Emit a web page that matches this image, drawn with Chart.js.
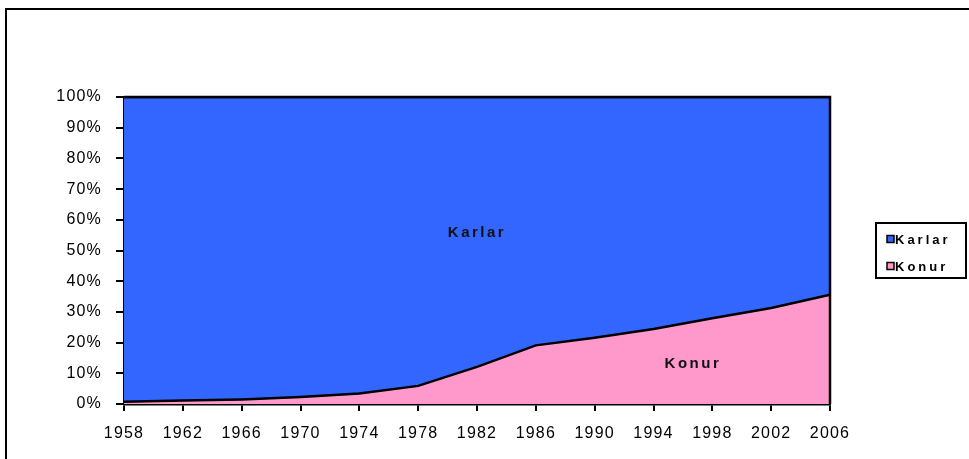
<!DOCTYPE html>
<html>
<head>
<meta charset="utf-8">
<script src="https://cdn.jsdelivr.net/npm/chart.js@4"></script>
<style>
  html, body { margin: 0; padding: 0; background: #fff; overflow: hidden; }
  #wrap { position: relative; width: 969px; height: 459px; }
  #frame { position: absolute; left: 5px; top: 8px; width: 1000px; height: 500px; border: 2px solid #000; box-sizing: border-box; }
  #myChart { position: absolute; left: 0; top: 0; }
</style>
</head>
<body>
<div id="wrap">
  <div id="frame"></div>
  <canvas id="myChart" width="969" height="459"></canvas>
</div>
<script>
// categories and series (percent of total)
const years = ['1958', '1962', '1966', '1970', '1974', '1978', '1982', '1986', '1990', '1994', '1998', '2002', '2006'];
const konur = [0.7, 1.1, 1.5, 2.3, 3.4, 5.9, 12.1, 19.1, 21.6, 24.4, 27.9, 31.3, 35.6];
const karlar = konur.map(v => +(100 - v).toFixed(1));
const yTicks = [0, 10, 20, 30, 40, 50, 60, 70, 80, 90, 100];

const FONT = "'Liberation Sans', Arial, sans-serif";

// letter spacing, canvas state gets reset on resize so set it every pass
const spacing = {
  id: 'spacing',
  beforeLayout(chart) { chart.ctx.letterSpacing = '1.2px'; },
  beforeDraw(chart) { chart.ctx.letterSpacing = '1.2px'; }
};

// black line on top and right edge of the plot area
const plotFrame = {
  id: 'plotFrame',
  afterDatasetsDraw(chart) {
    const {ctx, chartArea} = chart;
    ctx.save();
    ctx.strokeStyle = '#000';
    ctx.lineWidth = 2.5;
    ctx.beginPath();
    ctx.moveTo(chartArea.left, chartArea.top);
    ctx.lineTo(chartArea.right, chartArea.top);
    ctx.lineTo(chartArea.right, chartArea.bottom);
    ctx.stroke();
    ctx.restore();
  }
};

// series names written inside the areas
const areaLabels = {
  id: 'areaLabels',
  afterDatasetsDraw(chart) {
    const {ctx, scales} = chart;
    ctx.save();
    ctx.letterSpacing = '2.5px';
    ctx.font = 'bold 15px ' + FONT;
    ctx.fillStyle = '#111';
    ctx.textAlign = 'center';
    ctx.textBaseline = 'middle';
    ctx.fillText('Karlar', scales.x.getPixelForValue(6), scales.y.getPixelForValue(55.6));
    ctx.fillText('Konur', scales.x.getPixelForValue(9.67), scales.y.getPixelForValue(13.2));
    ctx.restore();
  }
};

// boxed legend on the right, Karlar first
const boxLegend = {
  id: 'boxLegend',
  afterDraw(chart) {
    const {ctx} = chart;
    const items = [chart.data.datasets[1], chart.data.datasets[0]];
    ctx.save();
    ctx.strokeStyle = '#000';
    ctx.lineWidth = 2;
    ctx.strokeRect(876, 223, 90, 55);
    ctx.font = 'bold 13px ' + FONT;
    ctx.letterSpacing = '3px';
    ctx.textBaseline = 'middle';
    items.forEach((ds, i) => {
      const y = 239 + i * 27;
      ctx.fillStyle = ds.backgroundColor;
      ctx.fillRect(887, y - 3.5, 7, 7);
      ctx.lineWidth = 1.5;
      ctx.strokeRect(887, y - 3.5, 7, 7);
      ctx.fillStyle = '#000';
      ctx.fillText(ds.label, 895, y + 1);
    });
    ctx.restore();
  }
};

const data = {
  labels: years,
  datasets: [{
    label: 'Konur',
    data: konur,
    fill: 'origin',
    backgroundColor: '#ff99cc',
    borderColor: '#000',
    borderWidth: 2.5,
    pointRadius: 0,
    tension: 0
  }, {
    label: 'Karlar',
    data: karlar,
    fill: '-1',
    backgroundColor: '#3366ff',
    borderColor: '#000',
    borderWidth: 2.5,
    pointRadius: 0,
    tension: 0
  }]
};

const config = {
  type: 'line',
  data,
  options: {
    responsive: false,
    animation: false,
    layout: { padding: { left: 0, right: 139, top: 97, bottom: 0 } },
    plugins: {
      legend: { display: false },
      tooltip: { enabled: false }
    },
    scales: {
      x: {
        offset: false,
        grid: { drawOnChartArea: false, drawTicks: true, tickLength: 7, color: '#000', lineWidth: 2 },
        border: { color: '#000', width: 2.5 },
        ticks: { color: '#000', font: { family: FONT, size: 16 }, padding: 13, maxRotation: 0, autoSkip: false },
        afterFit(s) { s.height = 55; }
      },
      y: {
        stacked: true,
        min: 0,
        max: 100,
        afterBuildTicks(s) { s.ticks = yTicks.map(v => ({value: v})); },
        grid: { drawOnChartArea: false, drawTicks: true, tickLength: 8, color: '#000', lineWidth: 2 },
        border: { color: '#000', width: 2.5 },
        ticks: { color: '#000', font: { family: FONT, size: 16 }, padding: 14, callback: v => v + '%' },
        afterFit(s) { s.width = 124; }
      }
    }
  },
  plugins: [spacing, plotFrame, areaLabels, boxLegend]
};

new Chart(document.getElementById('myChart').getContext('2d'), config);
</script>
</body>
</html>
